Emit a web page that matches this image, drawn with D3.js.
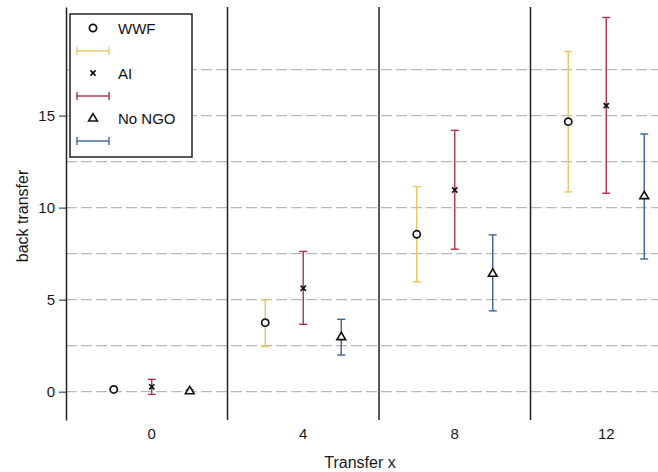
<!DOCTYPE html>
<html>
<head>
<meta charset="utf-8">
<script src="https://cdn.jsdelivr.net/npm/d3@7"></script>
<style>
  body { margin: 0; background: #fff; }
  svg { display: block; font-family: "Liberation Sans", Arial, sans-serif; }
</style>
</head>
<body>
<svg id="chart" width="658" height="472"></svg>
<script>
// transfer levels (x categories)
const transfers = ["0", "4", "8", "12"]
const series = ["WWF", "AI", "No NGO"]

// means and interval bounds per series, one value per transfer level
const wwfMean = [0.12, 3.75, 8.55, 14.67]
const wwfLow = [0.05, 2.45, 5.97, 10.85]
const wwfHigh = [0.2, 5.0, 11.14, 18.48]

const aiMean = [0.26, 5.62, 10.96, 15.54]
const aiLow = [-0.15, 3.66, 7.74, 10.78]
const aiHigh = [0.67, 7.62, 14.2, 20.33]

const noMean = [0.05, 2.99, 6.43, 10.65]
const noLow = [0.0, 1.99, 4.39, 7.21]
const noHigh = [0.1, 3.93, 8.52, 14.0]

const yTicks = [0, 5, 10, 15]
const gridValues = [0, 2.5, 5, 7.5, 10, 12.5, 15, 17.5]

const colors = { "WWF": "#e6c662", "AI": "#ad3346", "No NGO": "#3b6294" }

const svg = d3.select("#chart")

/**
 * Scales
 */
const yScale = d3.scaleLinear().domain([-1.54, 20.9]).range([420, 7])
const xScale = d3.scaleBand().domain(transfers).range([76, 682]).padding(0)
const offset = d3.scalePoint().domain(series).range([-38, 38])
const axisX = 66

const rows = []
transfers.forEach((t, i) => {
    rows.push({ s: "WWF", t: t, m: wwfMean[i], lo: wwfLow[i], hi: wwfHigh[i] })
    rows.push({ s: "AI", t: t, m: aiMean[i], lo: aiLow[i], hi: aiHigh[i] })
    rows.push({ s: "No NGO", t: t, m: noMean[i], lo: noLow[i], hi: noHigh[i] })
})
const cx = d => xScale(d.t) + xScale.bandwidth() / 2 + offset(d.s)

/**
 * Dashed grid lines
 */
svg.append("g").selectAll("line").data(gridValues).join("line")
    .attr("x1", axisX).attr("x2", 658)
    .attr("y1", d => yScale(d)).attr("y2", d => yScale(d))
    .attr("stroke", "#b8b8b8").attr("stroke-width", 1.2)
    .attr("stroke-dasharray", "11,4")

/**
 * Group separators
 */
svg.append("g").selectAll("line").data(transfers.slice(1)).join("line")
    .attr("x1", d => xScale(d)).attr("x2", d => xScale(d))
    .attr("y1", yScale.range()[1]).attr("y2", yScale.range()[0])
    .attr("stroke", "#222").attr("stroke-width", 1.5)

/**
 * Y axis
 */
const gy = svg.append("g").attr("transform", `translate(${axisX},0)`)
    .call(d3.axisLeft(yScale).tickValues(yTicks).tickSize(7).tickSizeOuter(0).tickPadding(4))
gy.select(".domain").attr("stroke", "#222").attr("stroke-width", 1.5)
gy.selectAll(".tick line").attr("stroke", "#222")
gy.selectAll("text").attr("font-size", 15).attr("fill", "#1a1a1a")
    .style("font-family", "Liberation Sans, Arial, sans-serif")

/**
 * X tick labels (no axis line)
 */
svg.append("g").selectAll("text").data(transfers).join("text")
    .attr("x", d => xScale(d) + xScale.bandwidth() / 2)
    .attr("y", 439)
    .attr("text-anchor", "middle").attr("font-size", 15).attr("fill", "#1a1a1a")
    .text(d => d)

svg.append("text").attr("x", 360).attr("y", 468)
    .attr("text-anchor", "middle").attr("font-size", 16).attr("fill", "#1a1a1a")
    .text("Transfer x")

svg.append("text").attr("transform", "translate(28,216) rotate(-90)")
    .attr("text-anchor", "middle").attr("font-size", 16).attr("fill", "#1a1a1a")
    .text("back transfer")

/**
 * Error bars
 */
const cap = 4
const eb = svg.append("g").selectAll("g").data(rows).join("g")
    .attr("stroke", d => colors[d.s]).attr("stroke-width", 1.4)
eb.append("line").attr("x1", cx).attr("x2", cx)
    .attr("y1", d => yScale(d.lo)).attr("y2", d => yScale(d.hi))
eb.append("line").attr("x1", d => cx(d) - cap).attr("x2", d => cx(d) + cap)
    .attr("y1", d => yScale(d.lo)).attr("y2", d => yScale(d.lo))
eb.append("line").attr("x1", d => cx(d) - cap).attr("x2", d => cx(d) + cap)
    .attr("y1", d => yScale(d.hi)).attr("y2", d => yScale(d.hi))

/**
 * Point markers
 */
function drawMarker(g, s) {
    if (s === "WWF") {
        g.append("circle").attr("r", 3.6).attr("fill", "#fff")
            .attr("stroke", "#111").attr("stroke-width", 1.7)
    } else if (s === "AI") {
        g.append("path").attr("d", "M-2.6,-2.6L2.6,2.6M-2.6,2.6L2.6,-2.6")
            .attr("stroke", "#111").attr("stroke-width", 1.7)
    } else {
        g.append("path").attr("d", "M0,-4.4L4.4,3L-4.4,3Z").attr("fill", "#fff")
            .attr("stroke", "#111").attr("stroke-width", 1.6)
    }
}
svg.append("g").selectAll("g").data(rows).join("g")
    .attr("transform", d => `translate(${cx(d)},${yScale(d.m)})`)
    .each(function (d) { drawMarker(d3.select(this), d.s) })

/**
 * Legend
 */
const legend = svg.append("g")
legend.append("rect").attr("x", 70).attr("y", 14).attr("width", 122).attr("height", 143)
    .attr("fill", "#fff").attr("stroke", "#222").attr("stroke-width", 1.5)

series.forEach((s, i) => {
    const y0 = 28 + i * 45
    const mk = legend.append("g").attr("transform", `translate(93,${y0})`)
    drawMarker(mk, s)
    legend.append("text").attr("x", 118).attr("y", y0 + 5.5)
        .attr("font-size", 15).attr("fill", "#111").text(s)
    const ly = y0 + 23
    const lg = legend.append("g").attr("stroke", colors[s]).attr("stroke-width", 1.4)
    lg.append("line").attr("x1", 77).attr("x2", 109).attr("y1", ly).attr("y2", ly)
    lg.append("line").attr("x1", 77).attr("x2", 77).attr("y1", ly - 4).attr("y2", ly + 4)
    lg.append("line").attr("x1", 109).attr("x2", 109).attr("y1", ly - 4).attr("y2", ly + 4)
})
</script>
</body>
</html>
